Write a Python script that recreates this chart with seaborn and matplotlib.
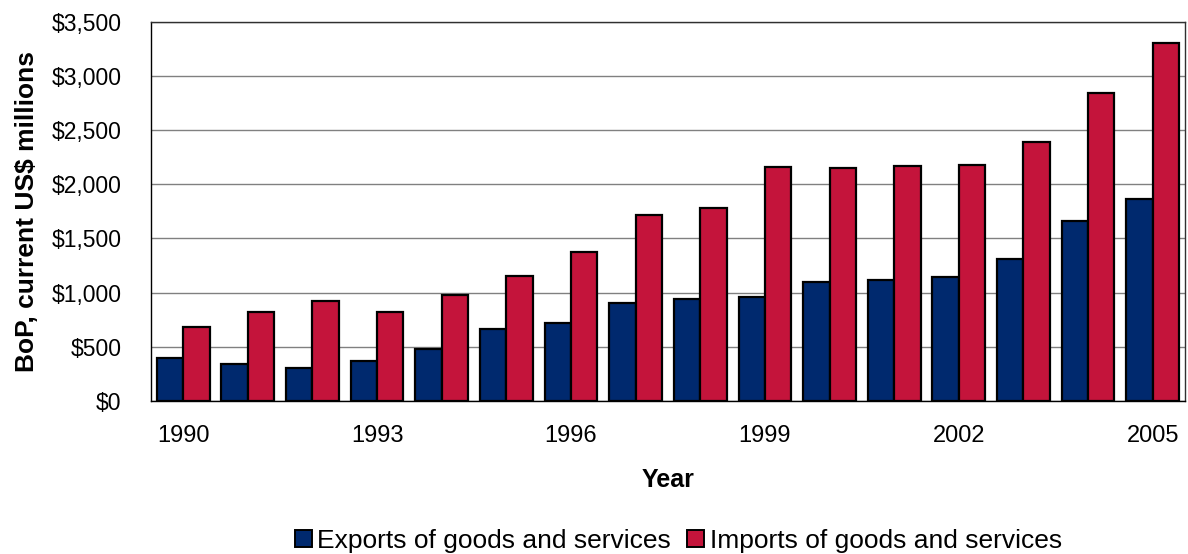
import numpy as np
import pandas as pd
import matplotlib.pyplot as plt
import matplotlib.ticker as mticker
from matplotlib.patches import Patch
import seaborn as sns

# data (current US$ millions)
years = list(range(1990, 2006))
exports = [393, 340, 309, 367, 485, 661, 722, 902, 942, 963, 1102, 1118, 1145, 1312, 1657, 1861]
imports = [682, 824, 923, 818, 979, 1152, 1377, 1717, 1781, 2161, 2148, 2164, 2179, 2389, 2837, 3303]
series_names = ['Exports of goods and services', 'Imports of goods and services']
colors = ['#00296E', '#C4143B']

df = pd.DataFrame({'Year': [str(y) for y in years] * 2,
                   'value': exports + imports,
                   'series': [series_names[0]] * len(years) + [series_names[1]] * len(years)})

sns.set_style('white')
plt.rcParams['font.family'] = ['Liberation Sans', 'DejaVu Sans']
plt.rcParams.update({'text.color': 'black', 'axes.labelcolor': 'black',
                     'xtick.color': 'black', 'ytick.color': 'black'})

fig = plt.figure(figsize=(11.88, 5.54), dpi=100)
ax = fig.add_axes([0.127, 0.276, 0.8705, 0.685])

sns.barplot(data=df, x='Year', y='value', hue='series', palette=colors, saturation=1,
            order=[str(y) for y in years], hue_order=series_names,
            width=0.815, edgecolor='black', linewidth=1.6, ax=ax, legend=False)

ax.set_xlim(-0.5, len(years) - 0.5)
ax.set_ylim(0, 3500)
ax.set_yticks(np.arange(0, 3501, 500))
ax.yaxis.set_major_formatter(mticker.FuncFormatter(lambda v, p: '${:,.0f}'.format(v)))
ax.yaxis.grid(True, color='#808080', linewidth=1)
ax.set_axisbelow(True)

# labels every third year, tick marks on category boundaries
label_pos = [i for i, y in enumerate(years) if (y - 1990) % 3 == 0]
ax.set_xticks(label_pos)
ax.set_xticklabels([str(years[i]) for i in label_pos])
ax.set_xticks(np.arange(-0.5, len(years), 1), minor=True)
ax.tick_params(axis='x', which='major', length=0, pad=17, labelsize=17)
ax.tick_params(axis='x', which='minor', length=5, width=1, color='black', direction='out')
ax.tick_params(axis='y', length=6, width=1, color='black', direction='out', labelsize=16.5, pad=15)

for s in ax.spines.values():
    s.set_visible(True)
    s.set_color('black')
    s.set_linewidth(1)
ax.spines['top'].set_color('#303030')
ax.spines['right'].set_color('#303030')

ax.set_xlabel('Year', fontsize=18, fontweight='bold', labelpad=15)
ax.set_ylabel('BoP, current US$ millions', fontsize=19, fontweight='bold', labelpad=9)

handles = [Patch(facecolor=c, edgecolor='black', linewidth=1.4) for c in colors]
fig.legend(handles, series_names, loc='center', bbox_to_anchor=(0.571, 0.024),
           ncol=2, frameon=False, fontsize=19, handlelength=0.65, handleheight=0.65,
           handletextpad=0.2, columnspacing=0.6, borderaxespad=0)

fig.savefig('out.png', dpi=100)
